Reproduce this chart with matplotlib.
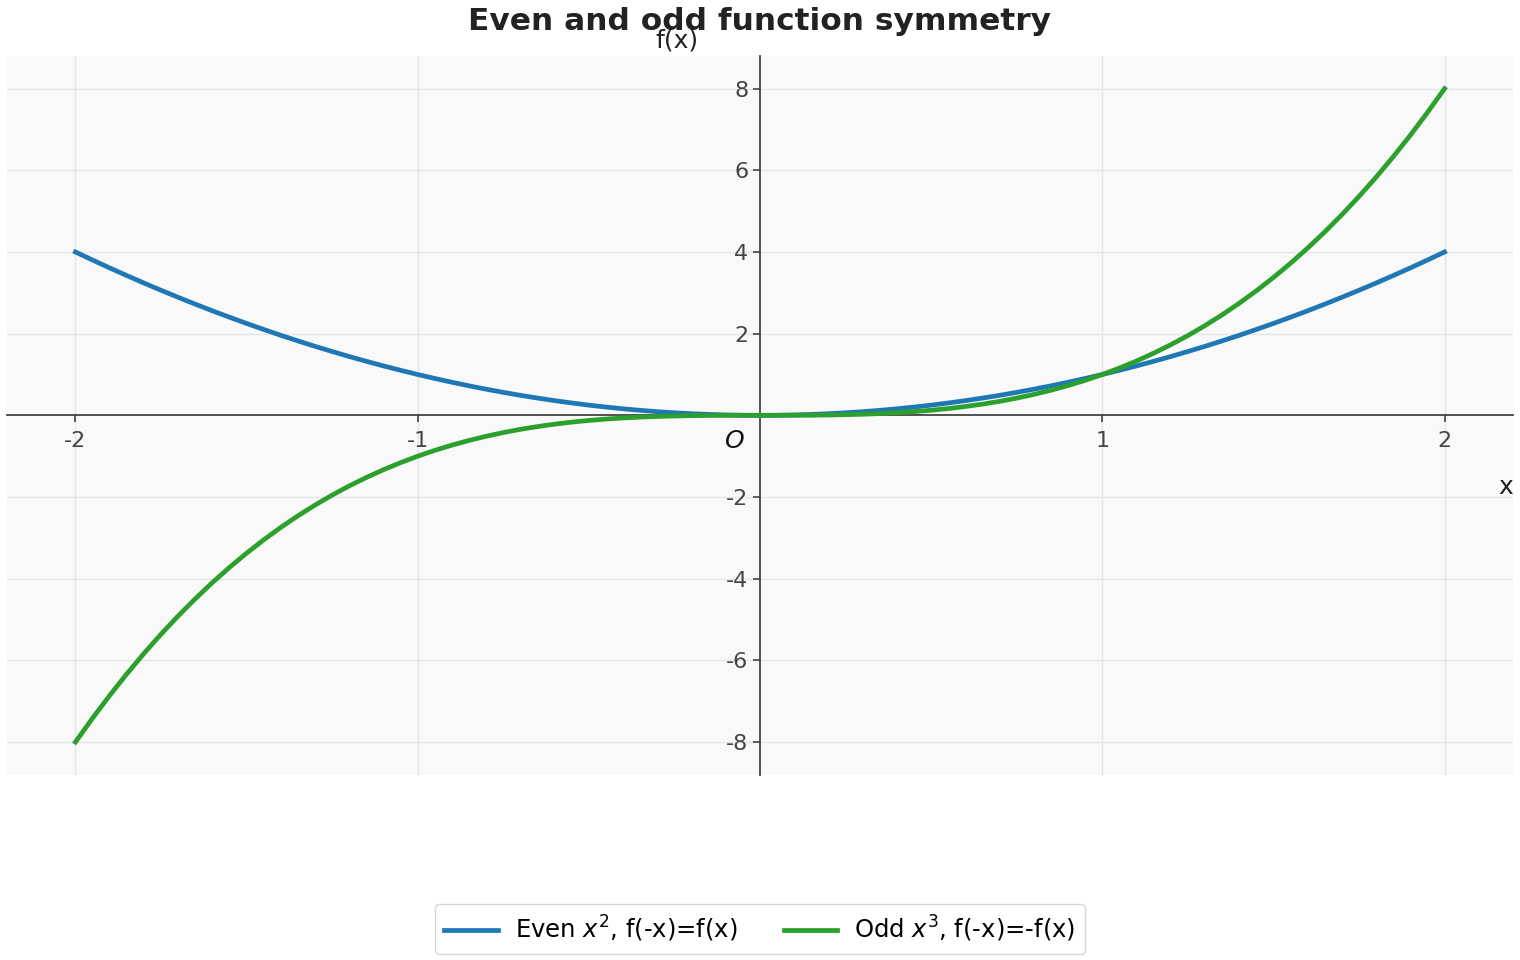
import matplotlib.pyplot as plt

x_vals = [-2.0, -1.95, -1.9, -1.85, -1.8, -1.75, -1.7, -1.65, -1.6, -1.55, -1.5,
          -1.45, -1.4, -1.35, -1.3, -1.25, -1.2, -1.15, -1.1, -1.05, -1.0,
          -0.95, -0.9, -0.85, -0.8, -0.75, -0.7, -0.65, -0.6, -0.55, -0.5,
          -0.45, -0.4, -0.35, -0.3, -0.25, -0.2, -0.15, -0.1, -0.05, 0.0,
          0.05, 0.1, 0.15, 0.2, 0.25, 0.3, 0.35, 0.4, 0.45, 0.5,
          0.55, 0.6, 0.65, 0.7, 0.75, 0.8, 0.85, 0.9, 0.95, 1.0,
          1.05, 1.1, 1.15, 1.2, 1.25, 1.3, 1.35, 1.4, 1.45, 1.5,
          1.55, 1.6, 1.65, 1.7, 1.75, 1.8, 1.85, 1.9, 1.95, 2.0]
even_vals = [4.000, 3.803, 3.610, 3.423, 3.240, 3.063, 2.890, 2.723, 2.560, 2.403, 2.250,
             2.103, 1.960, 1.823, 1.690, 1.563, 1.440, 1.323, 1.210, 1.103, 1.000,
             0.903, 0.810, 0.723, 0.640, 0.563, 0.490, 0.423, 0.360, 0.303, 0.250,
             0.203, 0.160, 0.123, 0.090, 0.063, 0.040, 0.023, 0.010, 0.003, 0.000,
             0.003, 0.010, 0.023, 0.040, 0.063, 0.090, 0.123, 0.160, 0.203, 0.250,
             0.303, 0.360, 0.423, 0.490, 0.563, 0.640, 0.723, 0.810, 0.903, 1.000,
             1.103, 1.210, 1.323, 1.440, 1.563, 1.690, 1.823, 1.960, 2.103, 2.250,
             2.403, 2.560, 2.723, 2.890, 3.063, 3.240, 3.423, 3.610, 3.803, 4.000]
odd_vals = [-8.000, -7.415, -6.859, -6.332, -5.832, -5.359, -4.913, -4.492, -4.096, -3.724, -3.375,
            -3.049, -2.744, -2.460, -2.197, -1.953, -1.728, -1.521, -1.331, -1.158, -1.000,
            -0.857, -0.729, -0.614, -0.512, -0.422, -0.343, -0.275, -0.216, -0.166, -0.125,
            -0.091, -0.064, -0.043, -0.027, -0.016, -0.008, -0.003, -0.001, -0.000, 0.000,
            0.000, 0.001, 0.003, 0.008, 0.016, 0.027, 0.043, 0.064, 0.091, 0.125,
            0.166, 0.216, 0.275, 0.343, 0.422, 0.512, 0.614, 0.729, 0.857, 1.000,
            1.158, 1.331, 1.521, 1.728, 1.953, 2.197, 2.460, 2.744, 3.049, 3.375,
            3.724, 4.096, 4.492, 4.913, 5.359, 5.832, 6.332, 6.859, 7.415, 8.000]
x_ticks = [-2, -1, 1, 2]
y_ticks = [-8, -6, -4, -2, 2, 4, 6, 8]
labels = ['Even $x^2$, f(-x)=f(x)', 'Odd $x^3$, f(-x)=-f(x)']

plt.rcParams['axes.unicode_minus'] = False

fig = plt.figure(figsize=(15.2, 9.6), dpi=100)
ax = fig.add_axes([0.0046, 0.193, 0.9908, 0.7487])
ax.set_facecolor('#f9f9f9')

ax.plot(x_vals, even_vals, color='#1f77b4', lw=3.4, label=labels[0], zorder=3)
ax.plot(x_vals, odd_vals, color='#2ca02c', lw=3.4, label=labels[1], zorder=3)

ax.set_xlim(-2.2, 2.2)
ax.set_ylim(-8.8, 8.8)
ax.set_xticks(x_ticks)
ax.set_yticks(y_ticks)
ax.grid(True, color='#e3e5e8', lw=1)
ax.set_axisbelow(True)

# axes through the origin
for side in ['left', 'bottom']:
    ax.spines[side].set_position('zero')
    ax.spines[side].set_color('#444444')
    ax.spines[side].set_linewidth(1.3)
ax.spines['top'].set_visible(False)
ax.spines['right'].set_visible(False)
ax.tick_params(colors='#444444', labelsize=16, length=5, width=1.2)
ax.tick_params(axis='x', pad=6)

ax.text(1.0, 0.40, 'x', transform=ax.transAxes, ha='right', va='center',
        fontsize=18, color='#222222')
ax.text(0.445, 1.022, 'f(x)', transform=ax.transAxes, ha='center', va='center',
        fontsize=18, color='#222222')
ax.text(-0.073, -0.63, 'O', style='italic', ha='center', va='center',
        fontsize=18, color='#111111')

fig.suptitle('Even and odd function symmetry', fontsize=22.5, fontweight='bold',
             color='#222222', y=0.993)

fig.legend(loc='center', bbox_to_anchor=(0.5, 0.032), ncol=2, fontsize=17.5,
           frameon=True, edgecolor='#cccccc', handlelength=2.2,
           handletextpad=0.7, columnspacing=1.9)

fig.savefig('out.png', dpi=100)
